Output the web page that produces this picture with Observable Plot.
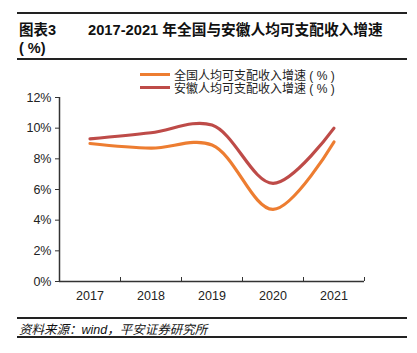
<!DOCTYPE html>
<html><head><meta charset="utf-8">
<script src="https://cdn.jsdelivr.net/npm/d3@7"></script>
<script src="https://cdn.jsdelivr.net/npm/@observablehq/plot@0.6"></script>
<style>
body{margin:0;background:#fff;font-family:"Liberation Sans","Noto Sans CJK SC",sans-serif;}
#wrap{position:relative;width:417px;height:353px;overflow:hidden;}
.rule{position:absolute;left:17px;width:390px;background:#222;}
.t{position:absolute;color:#111;white-space:nowrap;}
#chart{position:absolute;left:0;top:60px;}
.lg{position:absolute;display:flex;align-items:center;font-size:12px;color:#222;}
.lg span.sw{display:inline-block;width:30px;height:3px;margin-right:4px;}
</style></head>
<body><div id="wrap">
<div class="rule" style="top:12px;height:1.5px"></div>
<div class="t" style="left:19px;top:18px;font-size:14.5px;font-weight:bold;">图表3</div>
<div class="t" style="left:88px;top:18px;font-size:14.7px;font-weight:bold;">2017-2021 年全国与安徽人均可支配收入增速</div>
<div class="t" style="left:19px;top:40px;font-size:14.5px;font-weight:bold;">( %)</div>
<div class="rule" style="top:58px;height:1.5px"></div>
<div id="legend"></div>
<div id="chart"></div>
<div class="rule" style="top:317px;height:1.5px"></div>
<div class="t" style="left:19px;top:319px;font-size:12.5px;font-style:italic;">资料来源：wind，平安证券研究所</div>
<div class="rule" style="top:336px;height:1.5px"></div>
</div>
<script>
const years = [2017, 2018, 2019, 2020, 2021];
const seriesNames = ["全国人均可支配收入增速 ( % )", "安徽人均可支配收入增速 ( % )"];
const nationalValues = [9.0, 8.7, 8.9, 4.7, 9.1];
const anhuiValues = [9.3, 9.7, 10.2, 6.4, 10.0];
const colors = ["#ED7D31", "#BE4B48"];
const yTicks = [0, 2, 4, 6, 8, 10, 12];

const data = [];
years.forEach((y, i) => {
  data.push({year: y, value: nationalValues[i], series: seriesNames[0]});
  data.push({year: y, value: anhuiValues[i], series: seriesNames[1]});
});
const xDomain = [years[0] - 0.5, years[years.length - 1] + 0.5];
const boundaries = years.map(y => y + 0.5);

const font = '"Liberation Sans","Noto Sans CJK SC",sans-serif';
const chart = Plot.plot({
  width: 417,
  height: 250,
  marginTop: 37,
  marginBottom: 29,
  marginLeft: 59,
  marginRight: 53,
  style: {fontFamily: font, fontSize: "12.5px", color: "#222", background: "transparent"},
  x: {domain: xDomain, axis: null, label: null},
  y: {domain: [0, 12], axis: null, label: null},
  color: {domain: seriesNames, range: colors},
  marks: [
    Plot.axisY({ticks: yTicks, tickFormat: d => d + "%", tickSize: 4, tickPadding: 4, stroke: "#333", fontSize: 12.5, label: null}),
    Plot.axisX({ticks: boundaries, tickFormat: () => "", tickSize: -4, stroke: "#333", label: null}),
    Plot.axisX({ticks: years, tickFormat: d => String(d), tickSize: 0, tickPadding: 10, fontSize: 12.5, label: null}),
    Plot.ruleY([0], {stroke: "#333", strokeWidth: 1.5}),
    Plot.ruleX([xDomain[0]], {stroke: "#333", strokeWidth: 1.5}),
    Plot.line(data.filter(d => d.series === seriesNames[0]), {x: "year", y: "value", stroke: "series", strokeWidth: 3.2, curve: "catmull-rom"}),
    Plot.line(data.filter(d => d.series === seriesNames[1]), {x: "year", y: "value", stroke: "series", strokeWidth: 3.2, curve: "catmull-rom"})
  ]
});
document.getElementById("chart").appendChild(chart);

const lg = document.getElementById("legend");
seriesNames.forEach((name, i) => {
  const d = document.createElement("div");
  d.className = "lg";
  d.style.left = "140px";
  d.style.top = (66 + i * 13) + "px";
  d.innerHTML = `<span class="sw" style="background:${colors[i]}"></span>${name}`;
  lg.appendChild(d);
});
</script>
</body></html>
